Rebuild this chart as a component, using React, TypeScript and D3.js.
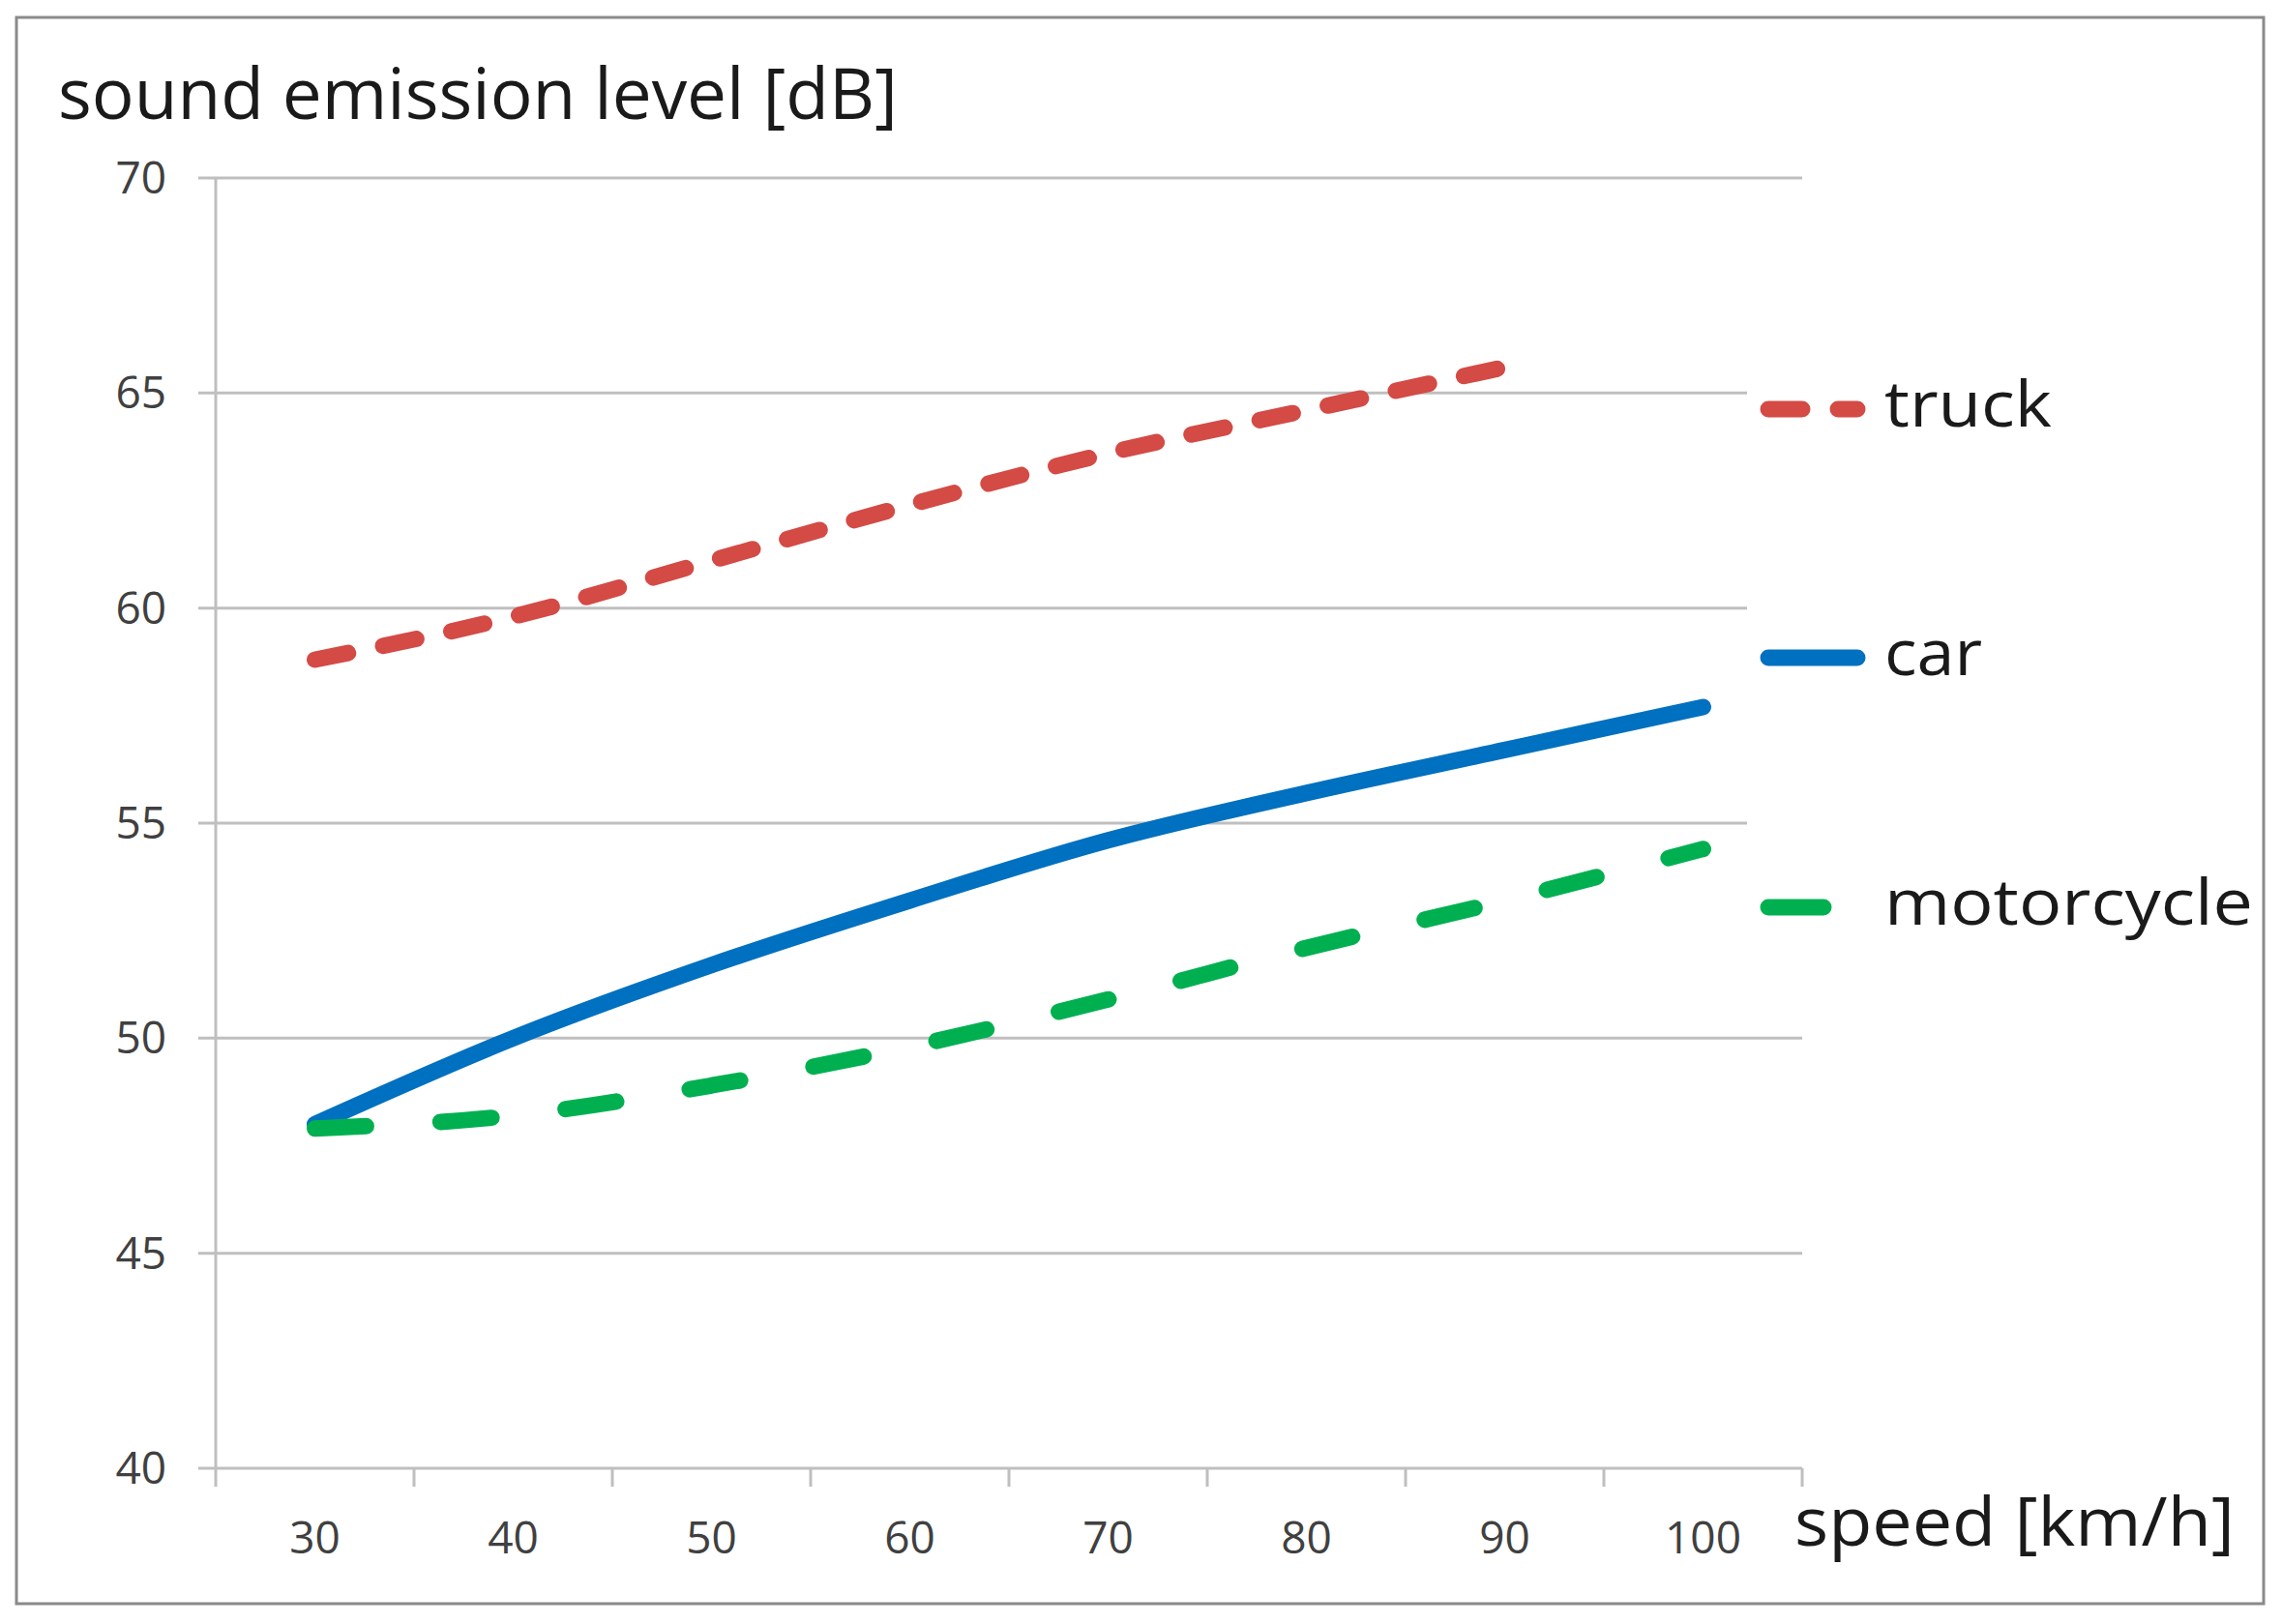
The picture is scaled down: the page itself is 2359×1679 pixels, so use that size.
import * as d3 from 'd3';
import { useEffect, useRef } from 'react';

const speeds = [30, 40, 50, 60, 70, 80, 90, 100];
const truckLevels = [58.8, 59.8, 61.1, 62.4, 63.6, 64.6, 65.6];
const carLevels = [48.0, 50.0, 51.7, 53.2, 54.6, 55.7, 56.7, 57.7];
const motorcycleLevels = [47.9, 48.2, 48.9, 49.8, 50.9, 52.1, 53.2, 54.4];
const yTicks = [40, 45, 50, 55, 60, 65, 70];
const seriesNames = ['truck', 'car', 'motorcycle'];

const W = 2359;
const H = 1679;
const FONT = '"Open Sans", "Noto Sans", sans-serif';

const App = () => {
  const svgRef = useRef<SVGSVGElement | null>(null);

  useEffect(() => {
    if (!svgRef.current) return;
    const svg = d3.select(svgRef.current);
    svg.selectAll('*').remove();

    // plot area
    const left = 223;
    const right = 1863;
    const top = 184;
    const bottom = 1518;

    const x = d3.scaleBand<number>().domain(speeds).range([left, right]).padding(0);
    const cx = (s: number) => (x(s) || 0) + x.bandwidth() / 2;
    const y = d3.scaleLinear().domain([40, 70]).range([bottom, top]);

    svg.append('rect').attr('width', W).attr('height', H).attr('fill', '#fff');

    // outer frame
    svg.append('rect')
      .attr('x', 17).attr('y', 18)
      .attr('width', 2340 - 17).attr('height', 1658 - 18)
      .attr('fill', 'none')
      .attr('stroke', '#8a8a8a')
      .attr('stroke-width', 3);

    // gridlines
    svg.append('g')
      .selectAll('line')
      .data(yTicks)
      .join('line')
      .attr('x1', left - 18)
      .attr('x2', right)
      .attr('y1', d => y(d))
      .attr('y2', d => y(d))
      .attr('stroke', '#bfbfbf')
      .attr('stroke-width', 3);

    // y axis line
    svg.append('line')
      .attr('x1', left).attr('x2', left)
      .attr('y1', y(70)).attr('y2', bottom + 19)
      .attr('stroke', '#bfbfbf')
      .attr('stroke-width', 3);

    // x tick marks at category boundaries
    const boundaries = speeds.map(s => x(s) || 0).concat([right]);
    svg.append('g')
      .selectAll('line')
      .data(boundaries.slice(1))
      .join('line')
      .attr('x1', d => d).attr('x2', d => d)
      .attr('y1', bottom).attr('y2', bottom + 19)
      .attr('stroke', '#bfbfbf')
      .attr('stroke-width', 3);

    // y tick labels
    svg.append('g')
      .selectAll('text')
      .data(yTicks)
      .join('text')
      .attr('x', 172)
      .attr('y', d => y(d) + 16)
      .attr('text-anchor', 'end')
      .style('font-family', FONT)
      .style('font-size', '46px')
      .style('fill', '#404040')
      .text(d => d);

    // x tick labels
    svg.append('g')
      .selectAll('text')
      .data(speeds)
      .join('text')
      .attr('x', d => cx(d))
      .attr('y', 1606)
      .attr('text-anchor', 'middle')
      .style('font-family', FONT)
      .style('font-size', '46px')
      .style('fill', '#404040')
      .text(d => d);

    // legend background hides gridlines behind it
    svg.append('rect')
      .attr('x', 1806).attr('y', 330)
      .attr('width', 530).attr('height', 680)
      .attr('fill', '#fff');

    const line = d3.line<number>()
      .x((_, i) => cx(speeds[i]))
      .y(d => y(d))
      .curve(d3.curveMonotoneX);

    const styles = [
      { data: truckLevels, color: '#d44a45', dash: '35 37' },
      { data: carLevels, color: '#0070c0', dash: null },
      { data: motorcycleLevels, color: '#00b050', dash: '53 77' },
    ];

    styles.forEach(s => {
      svg.append('path')
        .attr('d', line(s.data))
        .attr('fill', 'none')
        .attr('stroke', s.color)
        .attr('stroke-width', 17)
        .attr('stroke-linecap', 'round')
        .attr('stroke-linejoin', 'round')
        .attr('stroke-dasharray', s.dash);
    });

    // legend
    const legendY = [423, 680, 938];
    const legendLen = [173, 101, 381];
    const legendEnd = [1920, 1920, 1885];
    seriesNames.forEach((name, i) => {
      svg.append('line')
        .attr('x1', 1828).attr('x2', legendEnd[i])
        .attr('y1', legendY[i]).attr('y2', legendY[i])
        .attr('stroke', styles[i].color)
        .attr('stroke-width', 17)
        .attr('stroke-linecap', 'round')
        .attr('stroke-dasharray', i === 0 ? '35 37' : null);
      svg.append('text')
        .attr('x', 1948)
        .attr('y', legendY[i] + 18)
        .attr('textLength', legendLen[i])
        .attr('lengthAdjust', 'spacingAndGlyphs')
        .style('font-family', FONT)
        .style('font-size', '66px')
        .style('fill', '#1a1a1a')
        .text(name);
    });

    // axis titles
    svg.append('text')
      .attr('x', 60).attr('y', 123)
      .attr('textLength', 868)
      .attr('lengthAdjust', 'spacingAndGlyphs')
      .style('font-family', FONT)
      .style('font-size', '74px')
      .style('fill', '#1a1a1a')
      .text('sound emission level [dB]');

    svg.append('text')
      .attr('x', 1855).attr('y', 1598)
      .attr('textLength', 455)
      .attr('lengthAdjust', 'spacingAndGlyphs')
      .style('font-family', FONT)
      .style('font-size', '70px')
      .style('fill', '#1a1a1a')
      .text('speed [km/h]');
  }, []);

  return (
    <svg
      ref={svgRef}
      width={W}
      height={H}
      style={{ position: 'absolute', left: 0, top: 0, display: 'block' }}
    />
  );
};

export default App;
